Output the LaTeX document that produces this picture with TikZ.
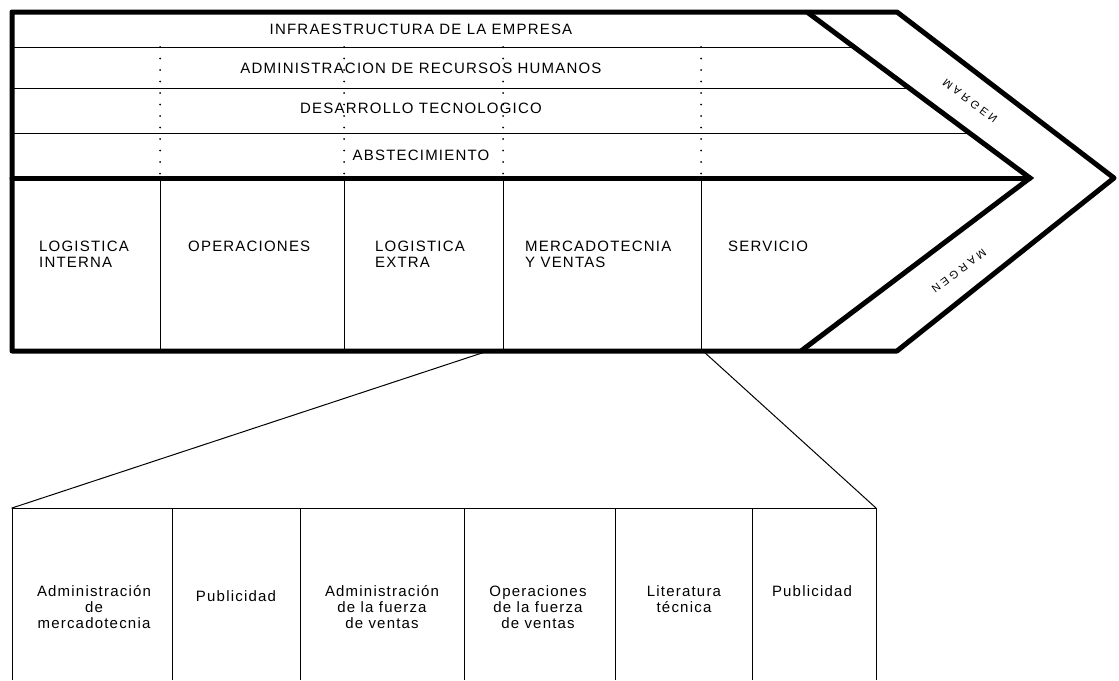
\documentclass[tikz,border=0pt]{standalone}
\usepackage{tkz-euclide}
\usepackage{fontspec}
\setmainfont{Liberation Sans}[LetterSpace=8]
\tikzset{>=stealth}
\tikzset{grueso/.style={line width=5pt},
  fino/.style={line width=1pt},
  punteado/.style={line width=2pt, line cap=round, dash pattern=on 0pt off 11.5pt},
  letra/.style={inner sep=0pt, font=\fontsize{15}{16}\selectfont},
  margen/.style={inner sep=0pt, font=\fontsize{11}{13}\selectfont\addfontfeatures{LetterSpace=30}}}

\begin{document}
\begin{tikzpicture}[x=1pt,y=-1pt]
\useasboundingbox (0,0) rectangle (1119,680);
\tkzDefPoints{12/12/A, 897/12/B, 1114/178/C, 897/351/D, 12/351/E}
\tkzDefPoints{807/12/P, 1030/178/Q, 801/351/R, 12/178/M}
% actividades de apoyo
\tkzDefPoints{12/47/F1, 854/47/G1, 12/88/F2, 909/88/G2, 12/133/F3, 969/133/G3}
\tkzDrawSegments[fino](F1,G1 F2,G2 F3,G3)
\foreach \x/\n in {160/1, 344/2, 503/3, 701/4}{
  \coordinate (T\n) at (\x,47);
  \coordinate (U\n) at (\x,178);
  \coordinate (V\n) at (\x,351);
  \draw[punteado] (T\n) -- (U\n);
  \draw[fino] (U\n) -- (V\n);
}
\tkzDrawPolygon[grueso](A,B,C,D,E)
\draw[grueso] (P) -- (Q) -- (R);
\tkzDrawSegment[grueso](M,Q)
\node[letra] (infra) at (421,29) {INFRAESTRUCTURA DE LA EMPRESA};
\node[letra] (rrhh) at (421,68) {ADMINISTRACION DE RECURSOS HUMANOS};
\node[letra] (tecno) at (421,108) {DESARROLLO TECNOLOGICO};
\node[letra] (abast) at (421,155) {ABSTECIMIENTO};
% actividades primarias
\node[letra, align=left, anchor=north west] (logint) at (39,241) {LOGISTICA\\INTERNA};
\node[letra, align=left, anchor=north west] (oper) at (188,241) {OPERACIONES};
\node[letra, align=left, anchor=north west] (logext) at (375,241) {LOGISTICA\\EXTRA};
\node[letra, align=left, anchor=north west] (merca) at (525,241) {MERCADOTECNIA\\Y VENTAS};
\node[letra, align=left, anchor=north west] (serv) at (728,241) {SERVICIO};
\node[margen, rotate=-37, yscale=-1] (margenA) at (970,101) {MARGEN};
\node[margen, rotate=217] (margenB) at (959,271) {MARGEN};
% detalle de mercadotecnia y ventas
\tkzDefPoints{488/351/H, 703/351/K, 12/508/W, 876/508/Z}
\tkzDrawSegments[fino](H,W K,Z W,Z)
\foreach \x/\n in {12/0, 172/1, 300/2, 464/3, 615/4, 752/5, 876/6}{
  \coordinate (S\n) at (\x,508);
  \coordinate (N\n) at (\x,680);
  \draw[fino] (S\n) -- (N\n);
}
\node[letra, align=center, anchor=north] (adm) at (94,585) {Administración\\de\\mercadotecnia};
\node[letra, align=center, anchor=north] (pub) at (236,590) {Publicidad};
\node[letra, align=center, anchor=north] (fza) at (382,585) {Administración\\de la fuerza\\de ventas};
\node[letra, align=center, anchor=north] (opfza) at (538,585) {Operaciones\\de la fuerza\\de ventas};
\node[letra, align=center, anchor=north] (lit) at (684,585) {Literatura\\técnica};
\node[letra, align=center, anchor=north] (pub2) at (812,585) {Publicidad};
\end{tikzpicture}
\end{document}
